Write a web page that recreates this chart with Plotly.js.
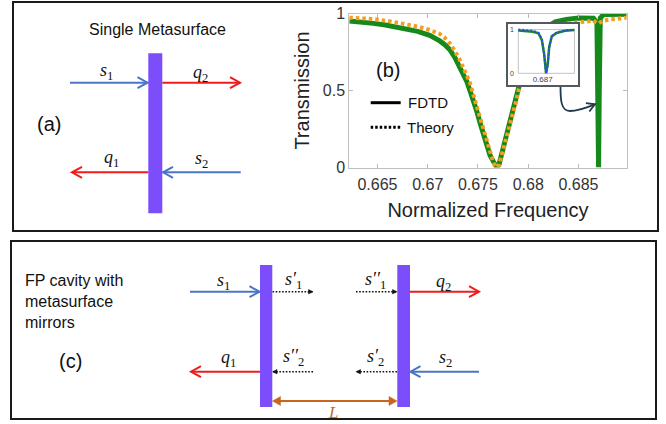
<!DOCTYPE html>
<html>
<head>
<meta charset="utf-8">
<script src="https://cdn.plot.ly/plotly-3.0.1.min.js"></script>
<style>html,body{margin:0;padding:0;background:#fff;}#chart{width:666px;height:424px;}</style>
</head>
<body>
<div id="chart"></div>
<script>
// ---------- DATA ----------
const freq_fdtd = [0.6622, 0.6635, 0.6646, 0.6658, 0.6668, 0.6679, 0.6690, 0.6702, 0.6707, 0.6712, 0.6717,
  0.6722, 0.6727, 0.6732, 0.6736, 0.6739, 0.6742, 0.67455, 0.6749, 0.67522, 0.67555, 0.67588, 0.6762,
  0.67654, 0.6767, 0.67688, 0.6771, 0.67725, 0.67754, 0.6778, 0.67804, 0.6783, 0.67853, 0.6788, 0.67903,
  0.6795, 0.6800, 0.6805, 0.6810, 0.6815, 0.6820, 0.6827, 0.6838, 0.6850, 0.6858, 0.6865, 0.68684,
  0.68695, 0.68700, 0.68707, 0.68717, 0.68750, 0.6880, 0.6898];
const trans_fdtd = [0.951, 0.945, 0.936, 0.925, 0.913, 0.898, 0.884, 0.858, 0.842, 0.822, 0.797,
  0.765, 0.715, 0.655, 0.605, 0.557, 0.500, 0.438, 0.362, 0.287, 0.210, 0.135, 0.080,
  0.038, 0.015, 0.000, 0.020, 0.060, 0.114, 0.180, 0.244, 0.310, 0.373, 0.445, 0.514,
  0.620, 0.720, 0.790, 0.850, 0.890, 0.918, 0.945, 0.962, 0.971, 0.973, 0.969, 0.940,
  0.500, 0.000, 0.500, 0.970, 0.993, 0.995, 0.995];

const freq_theory = [0.6622, 0.6635, 0.6646, 0.6662, 0.6679, 0.6690, 0.6702, 0.6707, 0.6712, 0.6717,
  0.6722, 0.6727, 0.6732, 0.6737, 0.67422, 0.67455, 0.67489, 0.6752, 0.67555, 0.6759, 0.67621, 0.6765,
  0.6767, 0.67688, 0.6771, 0.67725, 0.67754, 0.6778, 0.67804, 0.6783, 0.67853, 0.6788, 0.67903,
  0.6795, 0.6800, 0.6805, 0.6810, 0.6815, 0.6820, 0.6830, 0.6840, 0.6852, 0.6860, 0.6865,
  0.68694, 0.6875, 0.6882, 0.6895, 0.6898];
const trans_theory = [0.973, 0.969, 0.964, 0.950, 0.932, 0.915, 0.893, 0.882, 0.867, 0.842,
  0.806, 0.757, 0.698, 0.625, 0.547, 0.470, 0.395, 0.320, 0.244, 0.165, 0.092, 0.040,
  0.012, 0.000, 0.018, 0.055, 0.105, 0.170, 0.232, 0.300, 0.362, 0.430, 0.500,
  0.610, 0.705, 0.775, 0.830, 0.870, 0.895, 0.920, 0.935, 0.944, 0.953, 0.953,
  0.934, 0.953, 0.962, 0.969, 0.972];

// inset (zoom around 0.687)
const inset_freq   = [0.68614, 0.68648, 0.68666, 0.68685, 0.68697, 0.68705, 0.68711, 0.68712, 0.68718, 0.68723, 0.68732, 0.68749, 0.68779, 0.68812];
const inset_fdtd   = [0.975, 0.965, 0.950, 0.915, 0.760, 0.450, 0.050, 0.000, 0.210, 0.600, 0.840, 0.920, 0.970, 0.990];
const inset_theory = [1.000, 0.985, 0.970, 0.930, 0.780, 0.450, 0.050, 0.000, 0.200, 0.600, 0.850, 0.930, 0.980, 1.000];

const xtick_vals = [0.665, 0.67, 0.675, 0.68, 0.685];
const xtick_text = ['0.665', '0.67', '0.675', '0.68', '0.685'];
const ytick_vals = [0, 0.5, 1];
const ytick_text = ['0', '0.5', '1'];
const inset_xtick_vals = [0.687];
const inset_xtick_text = ['0.687'];
const inset_ytick_vals = [0, 1];
const inset_ytick_text = ['0', '1'];

const series_names = ['FDTD', 'Theory'];

// ---------- LAYOUT HELPERS (pixel -> paper) ----------
const W = 666, H = 424;
const X = p => p / W;
const Y = p => 1 - p / H;
const SANS = 'Liberation Sans';
const SERIF = 'Liberation Serif';

const C = {
  green: '#15891a', orange: '#f59e1e', blue: '#2f45ff', purple: '#7b4dfb',
  arrowBlue: '#4a74c8', red: '#ee1c1c', brown: '#c8661f', dark: '#1f3a4a', frame: '#1a1a1a'
};

const shapes = [];
const annotations = [];

function line(x1, y1, x2, y2, color, width, dash) {
  shapes.push({type: 'line', xref: 'paper', yref: 'paper', layer: 'above',
    x0: X(x1), y0: Y(y1), x1: X(x2), y1: Y(y2),
    line: {color: color, width: width, dash: dash || 'solid'}});
}
function rect(x1, y1, x2, y2, fill, lineColor, lw) {
  shapes.push({type: 'rect', xref: 'paper', yref: 'paper', layer: 'above',
    x0: X(x1), y0: Y(y1), x1: X(x2), y1: Y(y2),
    fillcolor: fill || 'rgba(0,0,0,0)', line: {color: lineColor || 'rgba(0,0,0,0)', width: lw || 0}});
}
function pt(x, y) { return X(x).toFixed(5) + ',' + Y(y).toFixed(5); }
function headPts(tx, ty, dx, dy, len, half) {
  const L = Math.hypot(dx, dy), ux = dx / L, uy = dy / L, nx = -uy, ny = ux;
  return [[tx - len * ux + half * nx, ty - len * uy + half * ny], [tx, ty], [tx - len * ux - half * nx, ty - len * uy - half * ny]];
}
function chevron(tx, ty, dx, dy, color, width, len, half) {
  const p = headPts(tx, ty, dx, dy, len || 10, half || 5.5);
  shapes.push({type: 'path', xref: 'paper', yref: 'paper', layer: 'above',
    path: 'M' + pt(p[0][0], p[0][1]) + ' L' + pt(p[1][0], p[1][1]) + ' L' + pt(p[2][0], p[2][1]),
    line: {color: color, width: width}});
}
function triHead(tx, ty, dx, dy, color, len, half) {
  const p = headPts(tx, ty, dx, dy, len, half);
  shapes.push({type: 'path', xref: 'paper', yref: 'paper', layer: 'above',
    path: 'M' + pt(p[0][0], p[0][1]) + ' L' + pt(p[1][0], p[1][1]) + ' L' + pt(p[2][0], p[2][1]) + ' Z',
    fillcolor: color, line: {color: color, width: 0.5}});
}
function arrow(x1, y1, x2, y2, color) {
  line(x1, y1, x2, y2, color, 2);
  chevron(x2, y2, x2 - x1, y2 - y1, color, 2);
}
function dotArrow(x1, y1, x2, y2) {
  line(x1, y1, x2, y2, '#111', 1.4, '1.6px,1.6px');
  triHead(x2, y2, x2 - x1, y2 - y1, '#111', 4.5, 2.2);
}
function txt(x, y, text, size, opts) {
  opts = opts || {};
  annotations.push(Object.assign({xref: 'paper', yref: 'paper', x: X(x), y: Y(y), text: text, showarrow: false,
    xanchor: 'center', yanchor: 'middle',
    font: {family: opts.family || SANS, size: size, color: opts.color || '#111'}}, opts.extra || {}));
}
function mathLbl(x, y, base, sub, prime, color) {
  txt(x, y, '<i>' + base + (prime || '') + '</i><sub>' + sub + '</sub>', 18, {family: SERIF, color: color || '#111'});
}

// ---------- frames ----------
rect(13, 2, 658, 231, null, C.frame, 2);
rect(11, 241, 656, 419, null, C.frame, 2);

// ---------- panel (a) ----------
txt(157, 29.5, 'Single Metasurface', 16);
txt(49, 124, '(a)', 20);
arrow(70, 82.7, 147.5, 82.7, C.arrowBlue);
arrow(162.3, 82.7, 240, 82.7, C.red);
arrow(148.3, 172.3, 72, 172.3, C.red);
arrow(240.7, 172.3, 163, 172.3, C.arrowBlue);
rect(148.3, 53.3, 162.3, 213.3, C.purple);
mathLbl(107, 72, 's', '1');
mathLbl(200.5, 73, 'q', '2');
mathLbl(111, 158, 'q', '1');
mathLbl(201, 159, 's', '2');

// ---------- panel (c) ----------
txt(23, 301, 'FP cavity with<br>metasurface<br>mirrors', 16, {extra: {xanchor: 'left', align: 'left'}});
txt(70, 361, '(c)', 20);
arrow(190, 291.7, 259.5, 291.7, C.arrowBlue);
dotArrow(272.5, 291.7, 313, 291.7);
dotArrow(356, 291.7, 397, 291.7);
arrow(410, 291.7, 479, 291.7, C.red);
arrow(260, 371.7, 191, 371.7, C.red);
dotArrow(313, 371.7, 272.5, 371.7);
dotArrow(397, 371.7, 356, 371.7);
arrow(479, 371.7, 410.5, 371.7, C.arrowBlue);
line(278, 401, 391, 401, C.brown, 2);
triHead(272.5, 401, -1, 0, C.brown, 8, 4.5);
triHead(397, 401, 1, 0, C.brown, 8, 4.5);
rect(260, 265, 272.3, 407, C.purple);
rect(397.3, 265, 410, 407, C.purple);
mathLbl(223, 281, 's', '1');
mathLbl(293, 280, 's', '1', '′');
mathLbl(375, 280, 's', '1', '′′');
mathLbl(443, 282, 'q', '2');
mathLbl(228, 358, 'q', '1');
mathLbl(293, 357, 's', '2', '′′');
mathLbl(375, 357, 's', '2', '′');
mathLbl(445, 358, 's', '2');
txt(333, 412, '<i>L</i>', 17, {family: SERIF, color: C.brown});

// ---------- panel (b) extras ----------
txt(387.5, 70, '(b)', 20);
line(370.7, 102.7, 400.7, 102.7, '#000', 3);
txt(406, 102.7, series_names[0], 15, {extra: {xanchor: 'left'}});
line(370.7, 127.3, 400.7, 127.3, '#000', 3, '2.5px,2px');
txt(405, 127.3, series_names[1], 15, {extra: {xanchor: 'left'}});

// curved arrow from inset to the narrow dip
shapes.push({type: 'path', xref: 'paper', yref: 'paper', layer: 'above',
  path: 'M' + pt(560.5, 87) + ' C' + pt(560.5, 100) + ' ' + pt(561, 111) + ' ' + pt(570, 111) +
        ' C' + pt(578, 111) + ' ' + pt(587, 107.5) + ' ' + pt(595, 104.3),
  line: {color: C.dark, width: 1.8}});
chevron(595, 104.3, 8, -3.3, C.dark, 1.8, 8, 4.5);

// inset inner frame (in inset data coordinates)
shapes.push({type: 'rect', xref: 'x2', yref: 'y2', layer: 'below',
  x0: inset_freq[0], x1: inset_freq[inset_freq.length - 1], y0: 0, y1: 1,
  line: {color: '#c4c4c4', width: 1}});

// ---------- traces ----------
const traces = [
  {x: freq_fdtd, y: trans_fdtd, type: 'scatter', mode: 'lines', name: series_names[0],
   line: {color: C.green, width: 5}, xaxis: 'x', yaxis: 'y', showlegend: false, hoverinfo: 'skip'},
  {x: freq_theory, y: trans_theory, type: 'scatter', mode: 'lines', name: series_names[1],
   line: {color: C.orange, width: 4, dash: '3.5px,3px'}, xaxis: 'x', yaxis: 'y', showlegend: false, hoverinfo: 'skip'},
  {x: inset_freq, y: inset_fdtd, type: 'scatter', mode: 'lines', name: 'FDTD inset',
   line: {color: C.green, width: 2.5}, xaxis: 'x2', yaxis: 'y2', showlegend: false, hoverinfo: 'skip'},
  {x: inset_freq, y: inset_theory, type: 'scatter', mode: 'lines', name: 'Theory inset',
   line: {color: C.blue, width: 2, dash: '2px,2px'}, xaxis: 'x2', yaxis: 'y2', showlegend: false, hoverinfo: 'skip'}
];

const axisCommon = {showgrid: false, zeroline: false, showline: true, linecolor: '#c0c0c0', linewidth: 1,
  mirror: 'ticks', ticks: 'inside', ticklen: 4, tickcolor: '#b8b8b8',
  tickfont: {family: SANS, size: 16, color: '#333'}};

const layout = {
  width: W, height: H, autosize: false,
  margin: {l: 0, r: 0, t: 0, b: 0, pad: 0},
  paper_bgcolor: '#ffffff', plot_bgcolor: '#ffffff',
  showlegend: false,
  xaxis: Object.assign({}, axisCommon, {
    domain: [X(349.3), X(626.7)], range: [0.6622, 0.6898], anchor: 'y',
    tickmode: 'array', tickvals: xtick_vals, ticktext: xtick_text, ticklabelstandoff: 2,
    title: {text: 'Normalized Frequency', font: {family: SANS, size: 20, color: '#222'}, standoff: 11}
  }),
  yaxis: Object.assign({}, axisCommon, {
    domain: [Y(167.5), Y(13.5)], range: [0, 1], anchor: 'x',
    tickmode: 'array', tickvals: ytick_vals, ticktext: ytick_text,
    title: {text: 'Transmission', font: {family: SANS, size: 20, color: '#222'}, standoff: 7}
  }),
  xaxis2: {domain: [X(508.3), X(578)], range: [0.685787, 0.688246], anchor: 'y2',
    showgrid: false, zeroline: false, showline: true, linecolor: '#505a60', linewidth: 2, mirror: true,
    ticks: '', tickmode: 'array', tickvals: inset_xtick_vals, ticktext: inset_xtick_text,
    ticklabelposition: 'inside', tickfont: {family: SANS, size: 8, color: '#444'}},
  yaxis2: {domain: [Y(85), Y(23.5)], range: [-0.267, 1.137], anchor: 'x2',
    showgrid: false, zeroline: false, showline: true, linecolor: '#505a60', linewidth: 2, mirror: true,
    ticks: '', tickmode: 'array', tickvals: inset_ytick_vals, ticktext: inset_ytick_text,
    ticklabelposition: 'inside', tickfont: {family: SANS, size: 7, color: '#444'}},
  shapes: shapes,
  annotations: annotations
};

Plotly.newPlot('chart', traces, layout, {displayModeBar: false});
</script>
</body>
</html>
